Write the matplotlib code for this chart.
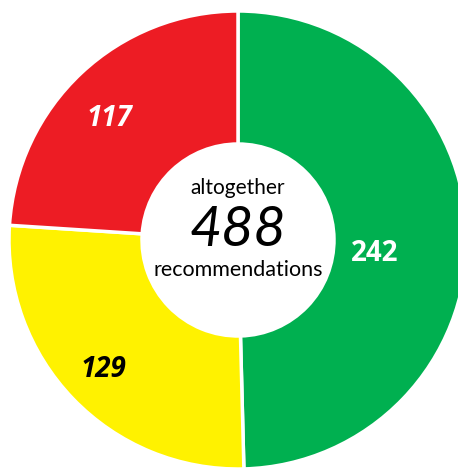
import numpy as np
import matplotlib
matplotlib.use('Agg')
import matplotlib.pyplot as plt

# donut data, clockwise from the top
LABELS = ['242', '129', '117']
VALUES = [242, 129, 117]
COLORS = ['#00B050', '#FFF200', '#ED1C24']
TEXT_COLORS = ['white', 'black', 'white']
TEXT_STYLES = ['normal', 'italic', 'italic']
TOTAL_TEXT = '488'

# geometry in pixel-like data units
CX, CY = 238, 230
R_OUT, R_IN = 229, 96
# label placement: distance from centre and angle shift from wedge middle
LABEL_R = [137, 187, 177]
LABEL_SHIFT = [-6.5, 0, 3.5]

plt.rcParams['font.family'] = ['Lato', 'DejaVu Sans']

fig = plt.figure(figsize=(4.58, 4.70), dpi=100)
ax = fig.add_axes([0, 0, 1, 1])

ax.pie(VALUES, colors=COLORS, startangle=90, counterclock=False,
       center=(CX, CY), radius=R_OUT,
       wedgeprops=dict(width=R_OUT - R_IN, edgecolor='white', linewidth=2.5),
       frame=True)
ax.set_xlim(0, 458)
ax.set_ylim(0, 470)
ax.set_aspect('equal')
ax.axis('off')

# value labels at the wedge middles
total = sum(VALUES)
start = 90.0
for val, lab, tc, st, r, sh in zip(VALUES, LABELS, TEXT_COLORS, TEXT_STYLES,
                                   LABEL_R, LABEL_SHIFT):
    span = val / total * 360
    mid = np.deg2rad(start - span / 2 + sh)
    start -= span
    ax.text(CX + r * np.cos(mid), CY + r * np.sin(mid), lab, color=tc,
            family=['Open Sans', 'DejaVu Sans'], fontsize=20,
            fontweight='bold', fontstyle=st, ha='center', va='center')

# centre text
ax.text(CX, CY + 52, 'altogether', fontsize=15, ha='center', va='center')
ax.text(CX, CY + 9, TOTAL_TEXT, fontsize=40, fontstyle='italic',
        ha='center', va='center')
ax.text(CX, CY - 30, 'recommendations', fontsize=15.5, ha='center', va='center')

plt.savefig('out.png', dpi=100)
